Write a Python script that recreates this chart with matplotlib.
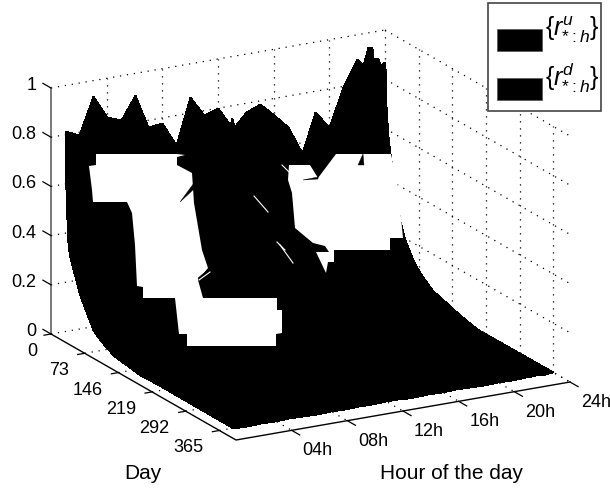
import numpy as np
import matplotlib
matplotlib.use("Agg")
import matplotlib.pyplot as plt
from matplotlib.colors import ListedColormap
from matplotlib.patches import Rectangle

plt.rcParams['font.family'] = ['Liberation Sans', 'DejaVu Sans']
plt.rcParams['mathtext.fontset'] = 'custom'
plt.rcParams['mathtext.rm'] = 'Liberation Sans'
plt.rcParams['mathtext.it'] = 'Liberation Sans:italic'

# values at day 0 for each hour
hours = [1, 2, 3, 4, 5, 6, 7, 8, 9, 10, 11, 12, 12.86, 13, 13.14, 14, 15, 16, 17, 18,
         19, 20, 21, 22, 22.43, 22.78, 23.06, 23.14, 23.5, 23.64, 24]
peak = [.815, .789, .938, .843, .821, .913, .773, .779, .680, .865, .782, .801, .724, .750, .712, .765,
        .788, .733, .674, .559, .716, .645, .798, .902, .873, .943, .940, .895, .891, .861, .870]

# how fast the ranked values fall with the day, early and late hours
days = [0, 2, 6.5, 11, 33, 43, 61, 76, 104, 114, 145, 163, 199, 365]
fall_early = [1, .66, .44, .38, .22, .17, .09, .06, .02, .015, .005, 0, 0, 0]
fall_late = [1, .80, .66, .59, .30, .22, .15, .11, .06, .05, .03, .02, 0, 0]

day_ticks = [0, 73, 146, 219, 292, 365]
hour_ticks = [4, 8, 12, 16, 20, 24]
hour_labels = ['04h', '08h', '12h', '16h', '20h', '24h']
z_ticks = [0, .2, .4, .6, .8, 1]
z_labels = ['0', '0.2', '0.4', '0.6', '0.8', '1']
day_max = 401

# the white blobs on the surface
blob_a_x = [96, 177, 185, 177, 177, 192, 194, 202, 208, 198, 203, 277, 277, 282, 282, 276, 276,
            187, 187, 179, 175, 143, 143, 137, 135, 132, 127, 93, 92, 89, 96]
blob_a_y = [154, 154, 155, 157, 165, 173, 203, 250, 268, 280, 298, 298, 310, 310, 333, 334, 346,
            346, 334, 334, 298, 298, 287, 286, 245, 213, 202, 202, 190, 166, 165]
blob_b_x = [289, 310, 318, 336, 391, 398, 403, 390, 390, 334, 334, 328, 326, 316, 329, 325, 313, 295, 292, 288]
blob_b_y = [165, 165, 178, 154, 154, 187, 238, 238, 250, 250, 262, 262, 273, 252, 252, 246, 243, 228, 193, 180]
# little leftovers on top of them
black_bits = [([180, 194, 194], [202, 183, 189]),
              ([303, 318, 318], [180, 177, 179]),
              ([358, 363, 364], [165, 154, 165]),
              ([198, 210, 210, 199], [278, 268, 270, 281])]
white_lines = [([254, 268], [196, 212]), ([277, 285], [242, 250]), ([280, 293], [245, 263]),
               ([282, 289], [165, 172]), ([199, 210], [280, 272])]


def proj(day, hour, z):
    # oblique view of the box, gives position in the picture
    day = np.asarray(day, dtype=float)
    hour = np.asarray(hour, dtype=float)
    z = np.asarray(z, dtype=float)
    x = 51 + day * 185 / day_max + hour * 334 / 24
    y = 334 + day * 106 / day_max - hour * 58 / 24 - z * 246
    return x, y


def line3(ax, d, h, z, **kw):
    x, y = proj(d, h, z)
    ax.plot(x, y, **kw)


fig = plt.figure(figsize=(6.1, 4.9), dpi=100)
ax = fig.add_axes([0, 0, 1, 1])

dots = dict(color='k', lw=0.9, linestyle=(0, (1, 4.6)), zorder=1)
for z in z_ticks:
    line3(ax, [0, 0], [0, 24], [z, z], **dots)
    line3(ax, [0, day_max], [24, 24], [z, z], **dots)
for h in hour_ticks:
    line3(ax, [0, 0], [h, h], [0, 1], **dots)
    line3(ax, [0, day_max], [h, h], [0, 0], **dots)
for d in day_ticks[1:]:
    line3(ax, [d, d], [24, 24], [0, 1], **dots)
    line3(ax, [d, d], [0, 24], [0, 0], **dots)

# surface
hour_arr = np.array(hours)
day_arr = np.array(days)
fall = np.where(hour_arr[:, None] < 12, np.array(fall_early)[None, :], np.array(fall_late)[None, :])
Z = np.array(peak)[:, None] * fall
H, D = np.meshgrid(hour_arr, day_arr, indexing='ij')
X, Y = proj(D, H, Z)
ax.pcolormesh(X, Y, np.zeros((Z.shape[0] - 1, Z.shape[1] - 1)), cmap=ListedColormap(['k']),
              shading='flat', edgecolors='k', linewidth=0.5, zorder=2)

ax.fill(blob_a_x, blob_a_y, color='w', lw=0, zorder=3)
ax.fill(blob_b_x, blob_b_y, color='w', lw=0, zorder=3)
for bx, by in black_bits:
    ax.fill(bx, by, color='k', lw=0.3, zorder=4)
for wx, wy in white_lines:
    ax.plot(wx, wy, color='w', lw=0.8, zorder=4)

# axes lines and ticks
line3(ax, [0, 0], [0, 0], [0, 1], color='#555555', lw=1.1, zorder=5)
line3(ax, [0, day_max, day_max], [0, 0, 24], [0, 0, 0], color='k', lw=1.0, zorder=5)
for z, lab in zip(z_ticks, z_labels):
    line3(ax, [0, -17.5], [0, 0], [z, z], color='k', lw=0.9, zorder=5)
    x, y = proj(0, 0, z)
    ax.text(x - 14.5, y - 2.5, lab, ha='right', va='center', fontsize=13)
for d in day_ticks:
    line3(ax, [d, d], [0, -0.5], [0, 0], color='k', lw=0.9, zorder=5)
    x, y = proj(d, 0, 0)
    ax.text(x - (14 if d == 0 else 16), y + 17.5, str(d), ha='right', va='center', fontsize=13)
for h, lab in zip(hour_ticks, hour_labels):
    line3(ax, [day_max, day_max + 17.5], [h, h], [0, 0], color='k', lw=0.9, zorder=5)
    x, y = proj(day_max, h, 0)
    ax.text(x + 26, y + 20.5, lab, ha='center', va='center', fontsize=13)

ax.text(143, 473, 'Day', ha='center', va='center', fontsize=15)
ax.text(452, 473, 'Hour of the day', ha='center', va='center', fontsize=15)

# legend box
ax.add_patch(Rectangle((488, 3), 113, 108.5, fc='w', ec='#444444', lw=1.2, zorder=6))
ax.add_patch(Rectangle((497, 29), 45, 22.5, fc='k', ec='#555555', lw=0.5, zorder=7))
ax.add_patch(Rectangle((497, 78), 45, 22.5, fc='k', ec='#555555', lw=0.5, zorder=7))
ax.text(572, 30, r'$\{r^{u}_{*:h}\}$', ha='center', va='center', fontsize=18, zorder=7)
ax.text(572, 78, r'$\{r^{d}_{*:h}\}$', ha='center', va='center', fontsize=18, zorder=7)

ax.set_xlim(0, 610)
ax.set_ylim(490, 0)
ax.axis('off')
fig.savefig('out.png', dpi=100)
